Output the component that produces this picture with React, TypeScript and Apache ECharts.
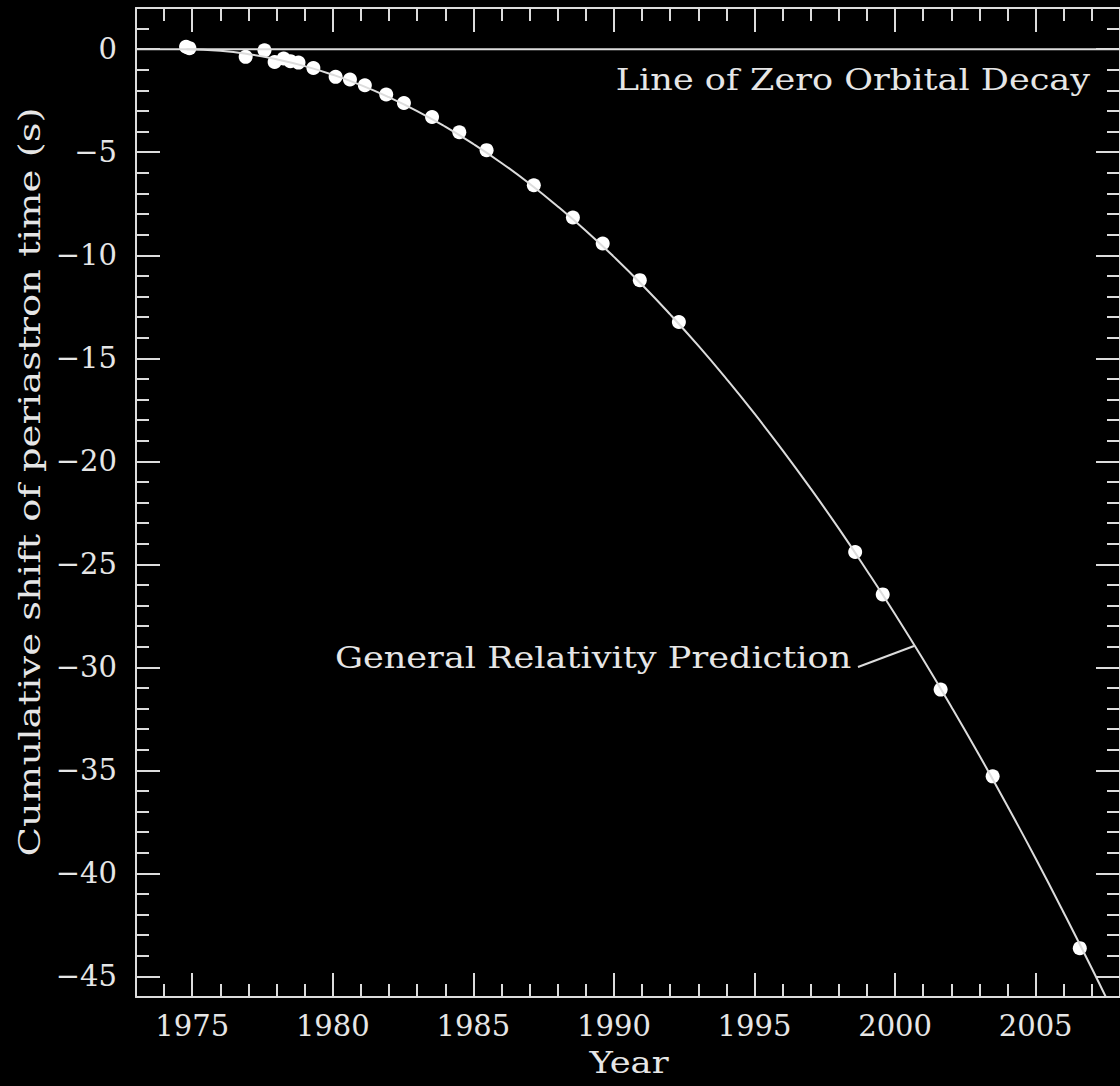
import React, { useEffect, useRef } from "react";
import * as echarts from "echarts";

// Observed cumulative periastron-time shift (seconds) by epoch
const OBS_YEARS = [
  1974.78, 1974.9, 1976.9, 1977.57, 1977.93, 1978.25, 1978.49, 1978.78, 1979.31,
  1980.1, 1980.61, 1981.14, 1981.9, 1982.53, 1983.53, 1984.5, 1985.47,
  1987.15, 1988.54, 1989.6, 1990.92, 1992.31,
  1998.58, 1999.56, 2001.62, 2003.47, 2006.57,
];
const OBS_SHIFT = [
  0.12, 0.05, -0.37, -0.05, -0.62, -0.45, -0.58, -0.65, -0.91,
  -1.34, -1.47, -1.75, -2.2, -2.61, -3.29, -4.03, -4.9,
  -6.6, -8.17, -9.43, -11.21, -13.24,
  -24.4, -26.46, -31.08, -35.29, -43.63,
];

// General Relativity prediction curve
const GR_YEARS = [
  1974.8, 1976, 1977, 1978, 1979, 1980, 1981, 1982, 1983, 1984, 1985, 1986,
  1987, 1988, 1989, 1990, 1991, 1992, 1993, 1994, 1995, 1996, 1997, 1998,
  1999, 2000, 2001, 2002, 2003, 2004, 2005, 2006, 2007, 2008,
];
const GR_SHIFT = [
  0, -0.08, -0.24, -0.49, -0.82, -1.24, -1.74, -2.33, -3.0, -3.76, -4.6, -5.52,
  -6.53, -7.63, -8.81, -10.08, -11.43, -12.87, -14.39, -16.0, -17.69, -19.47, -21.33, -23.27,
  -25.31, -27.42, -29.62, -31.91, -34.28, -36.74, -39.28, -41.91, -44.62, -47.42,
];

// Line of zero orbital decay
const ZERO_YEARS = [1973, 2008];
const ZERO_SHIFT = [0, 0];

// Labelled (major) tick values
const X_MAJOR = [1975, 1980, 1985, 1990, 1995, 2000, 2005];
const Y_MAJOR = [0, -5, -10, -15, -20, -25, -30, -35, -40, -45];

const X_MIN = 1973;
const X_MAX = 2008;
const Y_MIN = -46;
const Y_MAX = 2;

const FONT = "DejaVu Serif";
const INK = "#e6e6e6";
const LINE = "#dcdcdc";

const pairs = (xs: number[], ys: number[]) => xs.map((x, i) => [x, ys[i]]);
const fmtX = (v: number) => String(v);
const fmtY = (v: number) => (v < 0 ? "\u2212" + Math.abs(v) : String(v));

function xAxisDef(position: "top" | "bottom", major: boolean): any {
  return {
    type: "value",
    position,
    min: X_MIN,
    max: X_MAX,
    interval: 1,
    axisLine: { show: !major, onZero: false, lineStyle: { color: LINE, width: 2 } },
    axisTick: major
      ? { inside: true, length: 24, customValues: X_MAJOR, lineStyle: { color: LINE, width: 2 } }
      : { inside: true, length: 13, lineStyle: { color: LINE, width: 2 } },
    axisLabel:
      major && position === "bottom"
        ? {
            show: true,
            customValues: X_MAJOR,
            formatter: fmtX,
            margin: 14,
            color: INK,
            fontFamily: FONT,
            fontSize: 29,
          }
        : { show: false },
    splitLine: { show: false },
  };
}

function yAxisDef(position: "left" | "right", major: boolean): any {
  return {
    type: "value",
    position,
    min: Y_MIN,
    max: Y_MAX,
    interval: 1,
    axisLine: { show: !major, onZero: false, lineStyle: { color: LINE, width: 2 } },
    axisTick: major
      ? { inside: true, length: 24, customValues: Y_MAJOR, lineStyle: { color: LINE, width: 2 } }
      : { inside: true, length: 13, lineStyle: { color: LINE, width: 2 } },
    axisLabel:
      major && position === "left"
        ? {
            show: true,
            customValues: Y_MAJOR,
            margin: 19,
            formatter: fmtY,
            color: INK,
            fontFamily: FONT,
            fontSize: 29,
          }
        : { show: false },
    splitLine: { show: false },
  };
}

// Wide serif lettering for titles and annotations
function label(text: string, x: number, y: number, opts: any = {}): any {
  return {
    type: "text",
    x,
    y,
    rotation: opts.rotation || 0,
    scaleX: opts.stretch || 1.2,
    style: {
      text,
      fill: INK,
      font: `29px "${FONT}"`,
      textAlign: opts.align || "left",
      textVerticalAlign: opts.vAlign || "middle",
    },
  };
}

export default function App() {
  const ref = useRef<HTMLDivElement>(null);

  useEffect(() => {
    if (!ref.current) return;
    document.body.style.margin = "0";
    document.body.style.background = "#000";
    const chart = echarts.init(ref.current, undefined, { renderer: "svg" });

    chart.setOption({
      animation: false,
      backgroundColor: "#000",
      grid: { left: 136, top: 8, width: 990, height: 989, containLabel: false },
      xAxis: [
        xAxisDef("bottom", false),
        xAxisDef("bottom", true),
        xAxisDef("top", false),
        xAxisDef("top", true),
      ],
      yAxis: [
        yAxisDef("left", false),
        yAxisDef("left", true),
        yAxisDef("right", false),
        yAxisDef("right", true),
      ],
      graphic: [
        label("Line of Zero Orbital Decay", 1090, 80, { align: "right", stretch: 1.21 }),
        label("General Relativity Prediction", 335, 658, { stretch: 1.21 }),
        label("Year", 629, 1049, { align: "center", vAlign: "top", stretch: 1.22 }),
        label("Cumulative shift of periastron time (s)", 30, 482, {
          align: "center",
          rotation: Math.PI / 2,
          stretch: 1.33,
        }),
        {
          type: "line",
          shape: { x1: 858, y1: 667, x2: 914, y2: 646 },
          style: { stroke: LINE, lineWidth: 2 },
        },
      ],
      series: [
        {
          name: "Line of Zero Orbital Decay",
          type: "line",
          xAxisIndex: 0,
          yAxisIndex: 0,
          data: pairs(ZERO_YEARS, ZERO_SHIFT),
          showSymbol: false,
          lineStyle: { color: LINE, width: 2 },
          silent: true,
        },
        {
          name: "General Relativity Prediction",
          type: "line",
          xAxisIndex: 0,
          yAxisIndex: 0,
          data: pairs(GR_YEARS, GR_SHIFT),
          smooth: true,
          showSymbol: false,
          clip: true,
          lineStyle: { color: LINE, width: 2 },
          silent: true,
        },
        {
          name: "Observed",
          type: "scatter",
          xAxisIndex: 0,
          yAxisIndex: 0,
          data: pairs(OBS_YEARS, OBS_SHIFT),
          symbol: "circle",
          symbolSize: 14,
          itemStyle: { color: "#ffffff", opacity: 1 },
          silent: true,
        },
      ],
    });

    return () => chart.dispose();
  }, []);

  return (
    <div
      ref={ref}
      style={{ position: "absolute", left: 0, top: 0, width: 1120, height: 1086, background: "#000" }}
    />
  );
}
